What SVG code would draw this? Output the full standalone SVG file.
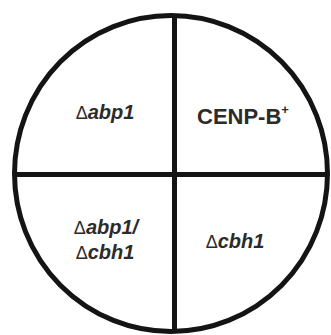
<svg xmlns="http://www.w3.org/2000/svg" width="331" height="335" viewBox="0 0 331 335">
<style>
.ln{stroke:#141414;stroke-width:5;fill:none}
.t{font-family:"Liberation Sans",Arial,sans-serif;font-size:20px;font-weight:bold;font-style:italic;fill:#2b2b2b}
.d{font-weight:normal;font-style:normal;font-size:18px}
.c{font-family:"Liberation Sans",Arial,sans-serif;font-size:22px;font-weight:bold;fill:#2b2b2b}
</style>
<rect width="331" height="335" fill="#fff"/>
<g id="connectors">
<ellipse class="ln" cx="171" cy="173.5" rx="156.5" ry="158"/>
<line class="ln" x1="174.5" y1="15" x2="174.5" y2="332"/>
<line class="ln" x1="14" y1="174.5" x2="328" y2="174.5"/>
</g>
<g id="q1"><text class="t" x="105" y="119" text-anchor="middle"><tspan class="d">Δ</tspan>abp1</text></g>
<g id="q2"><text class="c" x="197" y="124">CENP-B<tspan font-size="13" dy="-10">+</tspan></text></g>
<g id="q3"><text class="t" x="106" y="234" text-anchor="middle"><tspan class="d">Δ</tspan>abp1/</text>
<text class="t" x="105" y="259" text-anchor="middle"><tspan class="d">Δ</tspan>cbh1</text></g>
<g id="q4"><text class="t" x="235" y="248" text-anchor="middle"><tspan class="d">Δ</tspan>cbh1</text></g>
</svg>
